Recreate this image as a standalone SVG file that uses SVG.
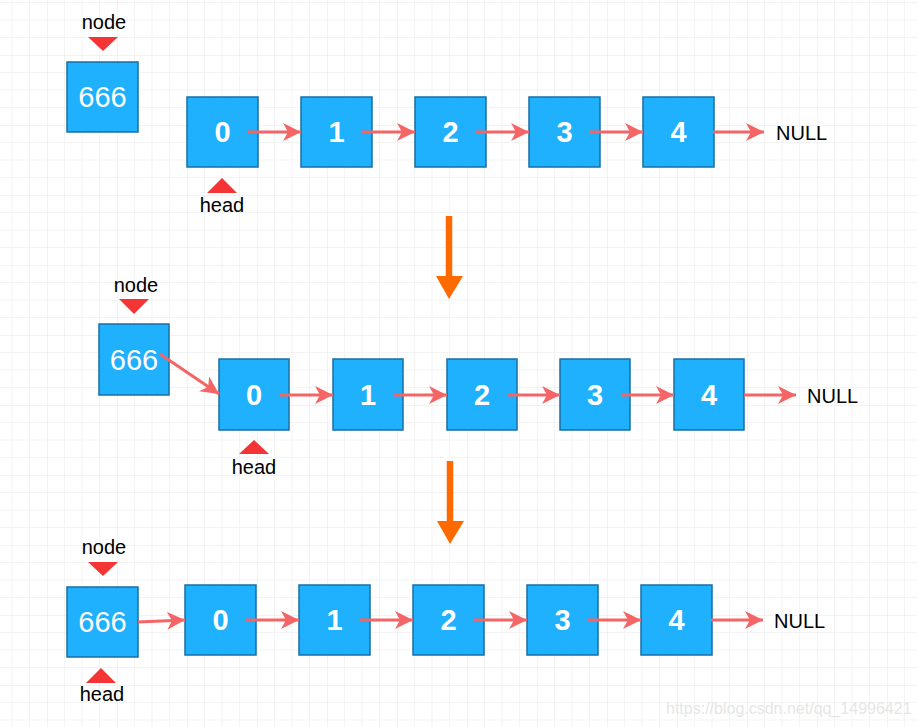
<svg xmlns="http://www.w3.org/2000/svg" width="917" height="727" viewBox="0 0 917 727">
<style>
.box{fill:#1fb1fd;stroke:#176fa3;stroke-width:1.5}
.num{font-family:"Liberation Sans",Arial,sans-serif;font-size:29px;font-weight:bold;fill:#fff;text-anchor:middle}
.big{font-family:"Liberation Sans",Arial,sans-serif;font-size:29px;fill:#fff;text-anchor:middle}
.lbl{font-family:"Liberation Sans",Arial,sans-serif;font-size:20px;fill:#000;text-anchor:middle}
.null{font-family:"Liberation Sans",Arial,sans-serif;font-size:20px;fill:#000}
.ptr{fill:#f53535}
.edge{stroke:#f56565;stroke-width:3;fill:none;marker-end:url(#ah)}
.step{stroke:#ff6a00;stroke-width:6.5;fill:none}
.stephead{fill:#ff6a00}
.wm{font-family:"Liberation Sans",Arial,sans-serif;font-size:16px;fill:#e6e6e6}
</style>
<defs>
<pattern id="grid" x="-23" y="-15" width="70" height="70" patternUnits="userSpaceOnUse">
<path d="M17.5 0V70M35 0V70M52.5 0V70M0 17.5H70M0 35H70M0 52.5H70" stroke="#f3f3f3" stroke-width="1" fill="none"/>
<path d="M0 0V70M0 0H70" stroke="#e6e6e6" stroke-width="1" fill="none"/>
</pattern>
<marker id="ah" markerUnits="userSpaceOnUse" markerWidth="20" markerHeight="20" refX="18" refY="10" orient="auto">
<path d="M0,1 L18,10 L0,19 L5,10 Z" fill="#f56565"/>
</marker>
</defs>
<rect width="917" height="727" fill="#fff"/>
<rect width="917" height="727" fill="url(#grid)"/>

<!-- Row 1 -->
<g id="r1-nodeptr"><text class="lbl" x="104" y="29">node</text><polygon class="ptr" points="88,37 118,37 103,51"/></g>
<g id="r1-666"><rect class="box" x="67" y="62" width="71" height="70"/><text class="big" x="102.5" y="107">666</text></g>
<g id="r1-n0"><rect class="box" x="187" y="97" width="71" height="70"/><text class="num" x="222.5" y="142">0</text></g>
<g id="r1-n1"><rect class="box" x="301" y="97" width="71" height="70"/><text class="num" x="336.5" y="142">1</text></g>
<g id="r1-n2"><rect class="box" x="415" y="97" width="71" height="70"/><text class="num" x="450.5" y="142">2</text></g>
<g id="r1-n3"><rect class="box" x="529" y="97" width="71" height="70"/><text class="num" x="564.5" y="142">3</text></g>
<g id="r1-n4"><rect class="box" x="643" y="97" width="71" height="70"/><text class="num" x="678.5" y="142">4</text></g>
<g id="r1-null"><text class="null" x="776" y="140">NULL</text></g>
<g id="r1-headptr"><polygon class="ptr" points="207,193 237,193 222,178"/><text class="lbl" x="222" y="212">head</text></g>

<!-- Row 2 -->
<g id="r2-nodeptr"><text class="lbl" x="136" y="292">node</text><polygon class="ptr" points="119,299 149,299 134,314"/></g>
<g id="r2-666"><rect class="box" x="99" y="324" width="70" height="71"/><text class="big" x="134" y="370">666</text></g>
<g id="r2-n0"><rect class="box" x="219" y="359" width="70" height="71"/><text class="num" x="254" y="405">0</text></g>
<g id="r2-n1"><rect class="box" x="333" y="359" width="70" height="71"/><text class="num" x="368" y="405">1</text></g>
<g id="r2-n2"><rect class="box" x="447" y="359" width="70" height="71"/><text class="num" x="482" y="405">2</text></g>
<g id="r2-n3"><rect class="box" x="560" y="359" width="70" height="71"/><text class="num" x="595" y="405">3</text></g>
<g id="r2-n4"><rect class="box" x="674" y="359" width="70" height="71"/><text class="num" x="709" y="405">4</text></g>
<g id="r2-null"><text class="null" x="807" y="403">NULL</text></g>
<g id="r2-headptr"><polygon class="ptr" points="239,454 269,454 254,440"/><text class="lbl" x="254" y="474">head</text></g>

<!-- Row 3 -->
<g id="r3-nodeptr"><text class="lbl" x="104" y="554">node</text><polygon class="ptr" points="88,562 118,562 103,576"/></g>
<g id="r3-666"><rect class="box" x="67" y="587" width="71" height="70"/><text class="big" x="102.5" y="632">666</text></g>
<g id="r3-n0"><rect class="box" x="185" y="585" width="71" height="70"/><text class="num" x="220.5" y="630">0</text></g>
<g id="r3-n1"><rect class="box" x="299" y="585" width="71" height="70"/><text class="num" x="334.5" y="630">1</text></g>
<g id="r3-n2"><rect class="box" x="413" y="585" width="71" height="70"/><text class="num" x="448.5" y="630">2</text></g>
<g id="r3-n3"><rect class="box" x="527" y="585" width="71" height="70"/><text class="num" x="562.5" y="630">3</text></g>
<g id="r3-n4"><rect class="box" x="641" y="585" width="71" height="70"/><text class="num" x="676.5" y="630">4</text></g>
<g id="r3-null"><text class="null" x="774" y="628">NULL</text></g>
<g id="r3-headptr"><polygon class="ptr" points="86,683 116,683 101,668"/><text class="lbl" x="102" y="701">head</text></g>

<g id="connectors">
<path class="edge" d="M248 132H301"/>
<path class="edge" d="M362 132H415"/>
<path class="edge" d="M476 132H529"/>
<path class="edge" d="M590 132H643"/>
<path class="edge" d="M713 132H764"/>

<path class="edge" d="M160 354L219 394"/>
<path class="edge" d="M280 395H333"/>
<path class="edge" d="M394 395H447"/>
<path class="edge" d="M508 395H560"/>
<path class="edge" d="M621 395H674"/>
<path class="edge" d="M744 395H796"/>

<path class="edge" d="M138 622L185 620"/>
<path class="edge" d="M246 620H299"/>
<path class="edge" d="M360 620H413"/>
<path class="edge" d="M474 620H527"/>
<path class="edge" d="M588 620H641"/>
<path class="edge" d="M711 620H763"/>

<path class="step" d="M449 216V278"/>
<polygon class="stephead" points="436,276 463,276 449,299"/>
<path class="step" d="M450 461V523"/>
<polygon class="stephead" points="437,521 464,521 450,544"/>
</g>

<text class="wm" x="666" y="714">https://blog.csdn.net/qq_14996421</text>
</svg>
